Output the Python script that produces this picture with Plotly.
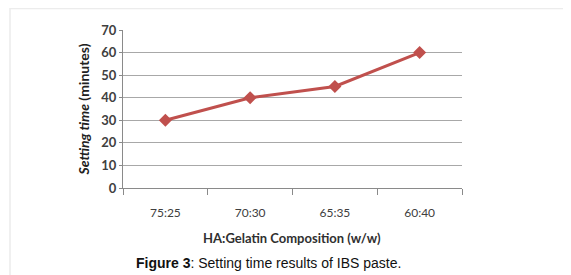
import plotly.graph_objects as go

categories = ["75:25", "70:30", "65:35", "60:40"]
setting_time = [30, 40, 45, 60]
y_ticks = [0, 10, 20, 30, 40, 50, 60, 70]

# page body adds an 8px margin; work in reference pixels shifted by it
OFF = 8
W, H = 571 - OFF, 275 - OFF
L, R, T, B = 123 - OFF, 571 - 462, 30 - OFF, 275 - 188
pw, ph = W - L - R, H - T - B

def px(x):
    return (x - OFF - L) / pw

def py(y):
    return (H - B - (y - OFF)) / ph

fig = go.Figure()
fig.add_trace(go.Scatter(
    x=categories, y=setting_time, mode="lines+markers",
    line=dict(color="#c0504d", width=3),
    marker=dict(symbol="diamond", size=10, color="#c0504d"),
    showlegend=False, hoverinfo="skip"))

# faint frame
fig.add_shape(type="rect", xref="paper", yref="paper",
              x0=px(10), x1=px(580), y0=py(285), y1=py(8.5),
              line=dict(color="#ececec", width=1.5), fillcolor="rgba(0,0,0,0)", layer="below")

fig.update_layout(
    width=W, height=H, margin=dict(l=L, r=R, t=T, b=B),
    paper_bgcolor="white", plot_bgcolor="white",
    font=dict(family="Lato", color="#404040"),
    xaxis=dict(type="category", range=[-0.5, 3.5], tickson="boundaries",
               ticks="outside", ticklen=6, tickcolor="#8a8a8a",
               showline=True, linecolor="#8a8a8a", linewidth=1,
               showgrid=False, tickfont=dict(size=12, color="#404040"),
               ticklabelstandoff=14),
    yaxis=dict(range=[0, 70], tickvals=y_ticks, ticks="outside", ticklen=3,
               tickcolor="#8a8a8a", showline=True, linecolor="#8a8a8a",
               showgrid=True, gridcolor="#a8a8a8", gridwidth=1, zeroline=False,
               tickfont=dict(size=13, color="#404040", weight="bold"),
               title=dict(text="<b><i>Setting time</i> (minutes)</b>",
                          font=dict(size=14, color="#202020"), standoff=8)),
    annotations=[
        dict(text="<b>HA:Gelatin Composition (w/w)</b>", xref="paper", yref="paper",
             x=px(292), y=py(238), xanchor="center", yanchor="middle", showarrow=False,
             font=dict(family="Lato", size=13, color="#303030")),
        dict(text="<b>Figure 3</b>: Setting time results of IBS paste.", xref="paper", yref="paper",
             x=px(268), y=py(263), xanchor="center", yanchor="middle", showarrow=False,
             font=dict(family="Liberation Sans", size=14, color="#111111")),
    ],
)

fig.write_html("out.html")
